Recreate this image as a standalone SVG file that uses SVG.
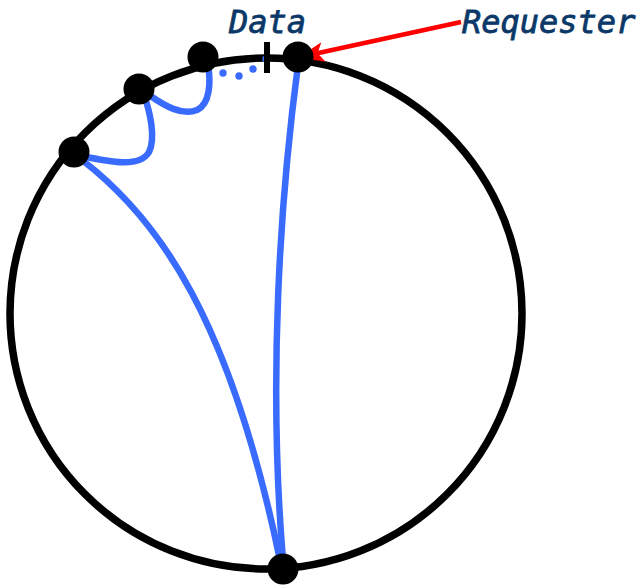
<svg xmlns="http://www.w3.org/2000/svg" width="640" height="585" viewBox="0 0 640 585">
  <style>
    .ring { fill: none; stroke: #000; stroke-width: 7.5; }
    .node { fill: #000; }
    .link { fill: none; stroke: #3a6bff; stroke-width: 6.5; stroke-linecap: round; }
    .label { font-family: "DejaVu Sans Mono", "Liberation Mono", monospace; font-style: italic; font-size: 32px; fill: #0a3868; stroke: #0a3868; stroke-width: 0.8; }
    .pointer { stroke: #ff0000; stroke-width: 4.5; fill: none; }
  </style>
  <defs>
    <marker id="dot" markerWidth="8" markerHeight="8" refX="4" refY="4" markerUnits="userSpaceOnUse">
      <circle cx="4" cy="4" r="3.7" fill="#3a6bff"/>
    </marker>
    <marker id="redHead" markerWidth="26" markerHeight="20" refX="24" refY="10" orient="auto" markerUnits="userSpaceOnUse">
      <path d="M0,0 L26,10 L0,20 L6,10 Z" fill="#ff0000"/>
    </marker>
  </defs>

  <rect width="640" height="585" fill="#fff"/>

  <!-- ring -->
  <ellipse class="ring" cx="266" cy="313.5" rx="256" ry="255.5"/>

  <!-- connectors -->
  <g id="connectors">
    <path class="link" d="M82,160 C160,220 230,320 280,560"/>
    <path class="link" d="M298,65 C280,200 268,380 283,560"/>
    <path class="link" d="M82,156 C110,162 140,168 149,152 C156,138 150,112 144,95"/>
    <path class="link" d="M149,95 C165,106 182,116 197,110 C210,104 211,82 208,65"/>
    <path d="M223,73 L239,76 L253,69 L266,59" fill="none" stroke="none" marker-start="url(#dot)" marker-mid="url(#dot)" marker-end="url(#dot)"/>
    <line class="pointer" x1="461" y1="22" x2="300" y2="57" marker-end="url(#redHead)"/>
  </g>

  <!-- data marker on the ring -->
  <g id="data">
    <line x1="267" y1="42" x2="267" y2="73" stroke="#000" stroke-width="6"/>
    <text class="label" x="229" y="33">Data</text>
  </g>

  <!-- nodes -->
  <g id="node-a"><circle class="node" cx="74" cy="152" r="15.5"/></g>
  <g id="node-b"><circle class="node" cx="139" cy="89" r="15.5"/></g>
  <g id="node-c"><circle class="node" cx="203" cy="57" r="15.5"/></g>
  <g id="node-requester"><circle class="node" cx="298" cy="57" r="15.5"/></g>
  <g id="node-bottom"><circle class="node" cx="283" cy="569" r="15.5"/></g>

  <g id="requester-label">
    <text class="label" x="462" y="33">Requester</text>
  </g>
</svg>
